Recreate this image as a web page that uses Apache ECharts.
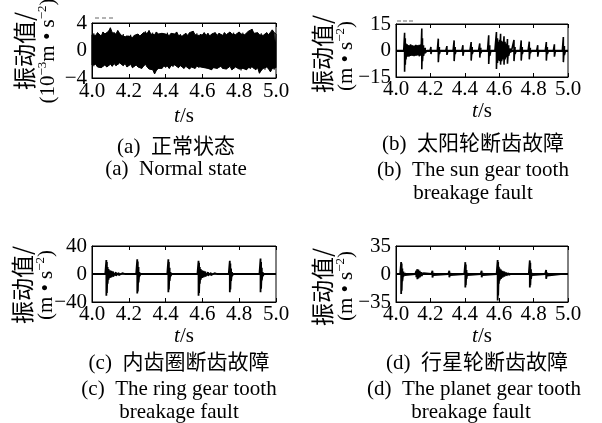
<!DOCTYPE html>
<html><head><meta charset="utf-8">
<script src="https://cdn.jsdelivr.net/npm/echarts@6/dist/echarts.min.js"></script>
<style>html,body{margin:0;padding:0;background:#fff}#c{width:602px;height:423px}</style>
</head><body><div id="c"></div>
<script>
// ---------------- data ----------------
const xTicks = [4.0, 4.2, 4.4, 4.6, 4.8, 5.0];
// (a) normal state: envelope of vibration (10^-3 m/s^2)
const timeA = [4.00,4.01,4.02,4.03,4.04,4.05,4.06,4.07,4.08,4.09,
  4.10,4.11,4.12,4.13,4.14,4.15,4.16,4.17,4.18,4.19,
  4.20,4.21,4.22,4.23,4.24,4.25,4.26,4.27,4.28,4.29,
  4.30,4.31,4.32,4.33,4.34,4.35,4.36,4.37,4.38,4.39,
  4.40,4.41,4.42,4.43,4.44,4.45,4.46,4.47,4.48,4.49,
  4.50,4.51,4.52,4.53,4.54,4.55,4.56,4.57,4.58,4.59,
  4.60,4.61,4.62,4.63,4.64,4.65,4.66,4.67,4.68,4.69,
  4.70,4.71,4.72,4.73,4.74,4.75,4.76,4.77,4.78,4.79,
  4.80,4.81,4.82,4.83,4.84,4.85,4.86,4.87,4.88,4.89,
  4.90,4.91,4.92,4.93,4.94,4.95,4.96,4.97,4.98,4.99,5.00];
const upperA = [2.3,2.5,2.2,2.6,2.4,2.1,2.7,2.4,2.3,2.8,
  3.3,2.6,2.7,2.4,2.9,2.5,2.2,2.4,2.0,2.2,
  2.1,2.3,1.9,2.2,2.0,2.4,2.1,2.3,2.6,2.8,
  2.5,2.9,2.4,2.6,2.3,2.7,2.4,2.2,2.5,2.3,
  2.4,2.6,2.2,2.5,2.3,2.4,2.7,2.2,2.4,2.1,
  2.3,2.5,2.2,2.6,2.4,2.8,2.3,2.5,2.2,2.4,
  2.3,2.6,2.2,2.5,2.1,2.4,2.3,2.6,2.2,2.5,
  2.4,2.2,2.6,2.3,2.5,2.7,2.4,2.6,2.3,2.5,
  2.7,2.4,2.6,2.3,2.5,2.8,2.6,3.1,2.5,2.4,
  2.6,2.3,2.5,2.2,2.4,2.6,2.3,2.5,3.0,2.6,2.4];
const lowerA = [-2.1,-2.3,-2.0,-2.4,-2.2,-2.5,-2.3,-2.1,-2.4,-2.2,
  -2.0,-2.3,-1.9,-2.2,-2.1,-1.8,-2.0,-2.2,-1.9,-2.4,
  -2.2,-2.0,-2.5,-2.3,-2.1,-2.4,-2.2,-2.6,-2.3,-2.0,
  -2.4,-2.7,-2.5,-2.8,-3.4,-2.9,-2.6,-2.4,-2.6,-2.3,
  -2.5,-2.3,-2.6,-2.2,-2.4,-2.1,-2.3,-2.5,-2.2,-2.4,
  -2.6,-2.3,-2.5,-2.7,-2.4,-2.2,-2.6,-2.3,-2.5,-2.4,
  -2.2,-2.5,-2.3,-2.6,-2.4,-2.8,-2.5,-2.3,-2.6,-2.4,
  -2.3,-2.6,-2.4,-2.7,-2.5,-2.3,-2.8,-2.6,-2.4,-2.5,
  -2.7,-2.9,-2.6,-2.4,-2.8,-2.5,-2.7,-2.4,-2.6,-2.8,
  -2.5,-3.3,-2.9,-2.6,-2.8,-2.4,-2.7,-3.1,-2.6,-2.8,-2.5];

// (b) sun gear tooth breakage (m/s^2)
const timeB = [4.000,4.045,4.050,4.054,4.058,4.065,4.075,4.085,4.095,4.105,4.115,4.125,4.135,4.145,4.150,4.154,4.160,4.170,4.180,
  4.198,4.203,4.208,4.240,4.246,4.252,4.258,4.290,4.296,4.302,4.332,4.338,4.344,4.350,4.383,4.389,4.395,
  4.430,4.437,4.443,4.450,4.480,4.487,4.493,4.500,4.532,4.539,4.545,4.552,4.575,4.584,4.590,4.596,4.602,
  4.608,4.614,4.620,4.628,4.634,4.642,4.648,4.655,4.665,4.672,4.680,4.686,4.692,4.700,4.722,4.728,4.734,
  4.740,4.768,4.775,4.781,4.788,4.818,4.824,4.830,4.868,4.874,4.880,4.887,4.915,4.921,4.927,4.967,4.973,
  4.979,4.986,5.000];
const upperB = [0,0,10,7,4,3.5,3,3.5,3,2.8,3.2,3,3.2,3.5,12.4,7,3,1.5,0,
  0,2,0,0,6.7,2,0,0,2.5,0,0,5.7,2,0,0,3,0,
  0,4.8,2,0,0,4,1.5,0,0,8.6,3,0,0,10.5,7,5,6,
  9.5,5.5,5,8,5,4,6.5,3,1.2,0,0,6,2,0,0,5.7,2,
  0,0,5,1.5,0,0,3,0,0,4.8,2,0,0,3.5,0,0,7.6,
  2.5,0,0];
const lowerB = [0,0,-12,-8,-5,-3.5,-3.5,-3,-3,-3.2,-3,-2.8,-3.3,-3,-10.6,-6,-3,-1.5,0,
  0,-2,0,0,-6.6,-2,0,0,-2.5,0,0,-6,-2,0,0,-3,0,
  0,-5.7,-2,0,0,-4,-1.5,0,0,-7.6,-3,0,0,-10.5,-7,-5.5,-6,
  -8,-6,-5,-8,-5,-4,-7.5,-3,-1.2,0,0,-6,-2,0,0,-5.7,-2,
  0,0,-5,-1.5,0,0,-3.5,0,0,-5.7,-2,0,0,-3.5,0,0,-6.6,
  -2.5,0,0];

// (c) ring gear tooth breakage (m/s^2)
const timeC = [4.000,4.072,4.078,4.081,4.085,4.090,4.097,4.105,4.115,4.130,4.145,4.165,4.180,
  4.240,4.246,4.249,4.253,4.258,4.264,
  4.409,4.415,4.418,4.422,4.427,4.433,
  4.573,4.579,4.582,4.586,4.591,4.598,4.606,4.616,4.631,4.646,4.666,4.680,
  4.743,4.749,4.752,4.756,4.761,4.767,
  4.910,4.916,4.919,4.923,4.928,4.934,5.000];
const upperC = [0,0,20,17,10,7,5.5,4.5,3.5,2.5,1.8,1.2,0,
  0,21,18,10,3,0,
  0,21,17,9,3,0,
  0,19,16,10,7,5.5,4.5,3.5,2.5,1.8,1.2,0,
  0,19,15,8,3,0,
  0,22,17,9,3,0,0];
const lowerC = [0,0,-31,-27,-14,-8,-5.5,-4.5,-3.5,-2.5,-1.8,-1.2,0,
  0,-28,-25,-12,-3,0,
  0,-26,-22,-10,-3,0,
  0,-31,-27,-14,-8,-5.5,-4.5,-3.5,-2.5,-1.8,-1.2,0,
  0,-26,-22,-10,-3,0,
  0,-26,-21,-9,-3,0,0];

// (d) planet gear tooth breakage (m/s^2)
const timeD = [4.000,4.024,4.030,4.033,4.037,4.043,4.052,4.062,
  4.112,4.118,4.124,4.130,4.138,4.148,4.160,4.170,
  4.206,4.212,4.218,4.225,
  4.304,4.310,4.316,4.323,
  4.397,4.403,4.406,4.410,4.415,4.421,
  4.492,4.498,4.504,4.511,
  4.585,4.591,4.594,4.598,4.603,4.610,4.619,4.630,4.642,4.655,4.668,
  4.684,4.690,4.696,
  4.772,4.778,4.781,4.785,4.790,4.797,
  4.867,4.873,4.879,4.886,
  4.958,4.964,4.970,5.000];
const upperD = [0,0,15,13,7,3,1.5,0,
  0,4,6,5.5,4,2.5,1.2,0,
  0,4,1.5,0,
  0,4,1.5,0,
  0,14.8,12,5,1.5,0,
  0,4,1.5,0,
  0,17.5,15,9,7,5.5,4,3,2,1.3,0,
  0,2.5,0,
  0,17,14,6,1.5,0,
  0,5,2,0,
  0,2.5,0,0];
const lowerD = [0,0,-25,-21,-9,-3,-1.5,0,
  0,-4,-6.5,-5.5,-4,-2.5,-1.2,0,
  0,-4.5,-1.5,0,
  0,-4,-1.5,0,
  0,-17,-14,-6,-1.5,0,
  0,-4,-1.5,0,
  0,-33,-27,-12,-8,-6,-4.5,-3,-2,-1.3,0,
  0,-2.5,0,
  0,-17,-14,-6,-1.5,0,
  0,-6,-2,0,
  0,-2.5,0,0];

const yLimits = [4, 15, 40, 35];

// ---------------- chart ----------------
const SERIF = '"Liberation Serif","Times New Roman","Noto Sans CJK SC",serif';
const CJK = '"Liberation Serif","Noto Sans CJK SC",sans-serif';

function zig(t, up, lo) {
  const out = [];
  for (let i = 0; i < t.length; i++) { out.push([t[i], up[i]]); out.push([t[i], lo[i]]); }
  return out;
}
function pairs(t, v) { return t.map((x, i) => [x, v[i]]); }

const grids = [
  {left: 92, top: 23, width: 184, height: 55},
  {left: 396, top: 24, width: 172, height: 53},
  {left: 92, top: 246, width: 184, height: 56},
  {left: 396, top: 246, width: 172, height: 56}
];
const nameGaps = [28, 20, 21, 20];
const labelMargins = [3, 2, 2, 2];

const xAxis = [], yAxis = [];
grids.forEach((g, gi) => {
  xAxis.push({
    type: 'value', gridIndex: gi, min: xTicks[0], max: xTicks[xTicks.length - 1], interval: 0.2,
    position: 'bottom',
    axisLine: {show: true, onZero: false, lineStyle: {color: '#000', width: 1}},
    axisTick: {show: true, inside: true, length: 4, lineStyle: {color: '#000'}},
    axisLabel: {color: '#000', fontFamily: SERIF, fontSize: 21, margin: labelMargins[gi],
      formatter: v => v.toFixed(1)},
    splitLine: {show: false},
    name: '{i|t}/s', nameLocation: 'middle', nameGap: nameGaps[gi],
    nameTextStyle: {color: '#000', fontFamily: SERIF, fontSize: 21,
      rich: {i: {fontStyle: 'italic', fontFamily: SERIF, fontSize: 21, color: '#000'}}}
  });
  xAxis.push({
    type: 'value', gridIndex: gi, min: xTicks[0], max: xTicks[xTicks.length - 1], interval: 0.2,
    position: 'top',
    axisLine: {show: true, onZero: false, lineStyle: {color: '#000', width: 1}},
    axisTick: {show: true, inside: true, length: 4, lineStyle: {color: '#000'}},
    axisLabel: {show: false}, splitLine: {show: false}
  });
  const m = yLimits[gi];
  yAxis.push({
    type: 'value', gridIndex: gi, min: -m, max: m, interval: m,
    axisLine: {show: true, onZero: false, lineStyle: {color: '#000', width: 1}},
    axisTick: {show: false},
    axisLabel: {color: '#000', fontFamily: SERIF, fontSize: 21, margin: 5,
      formatter: v => v < 0 ? '\u2212' + (-v) : String(v)},
    splitLine: {show: false}
  });
});

function lineSeries(xi, yi, data, w, extra) {
  return Object.assign({type: 'line', symbol: 'none', showSymbol: false, silent: true, animation: false,
    clip: true, xAxisIndex: xi, yAxisIndex: yi, data: data,
    lineStyle: {color: '#000', width: w}}, extra || {});
}
function baseline(w) {
  return {markLine: {silent: true, animation: false, symbol: ['none', 'none'], label: {show: false},
    lineStyle: {color: '#000', width: w, type: 'solid'}, data: [{yAxis: 0}]}};
}

const series = [
  lineSeries(0, 0, pairs(timeA, upperA), 1, {areaStyle: {color: '#000', opacity: 1}}),
  lineSeries(0, 0, pairs(timeA, lowerA), 1, {areaStyle: {color: '#000', opacity: 1}}),
  lineSeries(0, 0, zig(timeA, upperA, lowerA), 1.1),
  lineSeries(2, 1, zig(timeB, upperB, lowerB), 1.6, baseline(2)),
  lineSeries(4, 2, zig(timeC, upperC, lowerC), 1.8, baseline(1.6)),
  lineSeries(6, 3, zig(timeD, upperD, lowerD), 1.8, baseline(1.8))
];

function txt(x, y, text, font) {
  return {type: 'text', x: x, y: y, silent: true,
    style: {text: text, font: font, fill: '#000', align: 'center', verticalAlign: 'middle',
      textAlign: 'center', textVerticalAlign: 'middle'}};
}
const capFont = '21px ' + CJK;
const cjkName = '23px "Noto Sans CJK SC",sans-serif';
const richUnit = {
  n: {fontFamily: SERIF, fontSize: 21, color: '#000', lineHeight: 24},
  s: {fontFamily: SERIF, fontSize: 13, color: '#000', lineHeight: 24, verticalAlign: 'top'}
};
function unitText(x, y, text) {
  return {type: 'text', x: x, y: y, rotation: Math.PI / 2, silent: true,
    style: {text: text, rich: richUnit, fill: '#000', font: '21px ' + SERIF,
      align: 'center', verticalAlign: 'middle', textAlign: 'center', textVerticalAlign: 'middle'}};
}
function nameText(x, y) {
  return {type: 'text', x: x, y: y, rotation: Math.PI / 2, silent: true,
    style: {text: '振动值/', font: cjkName, fill: '#000',
      align: 'center', verticalAlign: 'middle', textAlign: 'center', textVerticalAlign: 'middle'}};
}

const graphic = [
  nameText(24, 51), unitText(48, 51, '{n|(10}{s|\u22123}{n|m \u2022 s}{s|\u22122}{n|)}'),
  nameText(322, 54), unitText(346, 56, '{n|(m \u2022 s}{s|\u22122}{n|)}'),
  nameText(22, 285), unitText(46, 285, '{n|(m \u2022 s}{s|\u22122}{n|)}'),
  nameText(322, 287), unitText(346, 286, '{n|(m \u2022 s}{s|\u22122}{n|)}'),
  {type: 'line', silent: true, shape: {x1: 95, y1: 18, x2: 116, y2: 18},
    style: {stroke: '#666', lineWidth: 1, lineDash: [4, 3]}},
  {type: 'line', silent: true, shape: {x1: 397, y1: 21, x2: 413, y2: 21},
    style: {stroke: '#666', lineWidth: 1, lineDash: [4, 2]}},
  txt(176, 147, '(a)  正常状态', capFont),
  txt(176, 169, '(a)  Normal state', capFont),
  txt(473, 144, '(b)  太阳轮断齿故障', capFont),
  txt(473, 170, '(b)  The sun gear tooth', capFont),
  txt(473, 193, 'breakage fault', capFont),
  txt(179, 363, '(c)  内齿圈断齿故障', capFont),
  txt(179, 389, '(c)  The ring gear tooth', capFont),
  txt(179, 412, 'breakage fault', capFont),
  txt(477, 363, '(d)  行星轮断齿故障', capFont),
  txt(474, 389, '(d)  The planet gear tooth', capFont),
  txt(471, 412, 'breakage fault', capFont)
];

const chart = echarts.init(document.getElementById('c'), null, {renderer: 'canvas'});
chart.setOption({
  backgroundColor: '#fff',
  animation: false,
  grid: grids.map(g => Object.assign({show: true, borderColor: '#000', borderWidth: 1, backgroundColor: 'transparent'}, g)),
  xAxis: xAxis,
  yAxis: yAxis,
  series: series,
  graphic: graphic
});
</script></body></html>
